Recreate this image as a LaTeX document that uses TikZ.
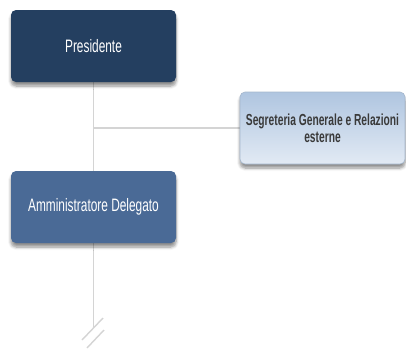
\documentclass[tikz,border=0pt]{standalone}
\usepackage{fontspec}
\setmainfont{Liberation Sans}
\newfontfamily\narrowfont{Liberation Sans}[FakeStretch=0.66]
\newfontfamily\narrowbold{Liberation Sans Bold}[FakeStretch=0.64]
\usetikzlibrary{shadows.blur}
\definecolor{navy}{HTML}{243F60}
\definecolor{midblue}{HTML}{4A6A96}
\definecolor{lightA}{HTML}{AFC5E0}
\definecolor{lightB}{HTML}{E2EAF4}
\definecolor{linegray}{HTML}{D4D4D4}
\definecolor{txtgray}{HTML}{3A3A3A}
\begin{document}
\begin{tikzpicture}[x=1pt,y=-1pt,
  box/.style={rounded corners=5pt, minimum width=165pt, minimum height=72pt, inner sep=2pt,
    align=center, blur shadow={shadow xshift=0pt, shadow yshift=-4pt, shadow blur steps=6, shadow blur radius=3pt, shadow opacity=45}},
  darkbox/.style={box, fill=navy, text=white, font=\narrowfont\fontsize{18}{20}\selectfont},
  midbox/.style={box, fill=midblue, text=white, font=\narrowfont\fontsize{18}{20}\selectfont},
  lightbox/.style={box, top color=lightA, bottom color=lightB, draw=lightA!80!gray, line width=0.6pt,
    text=txtgray, font=\narrowbold\fontsize{16}{17}\selectfont},
  conn/.style={draw=linegray, line width=1.4pt}]
\useasboundingbox (0,0) rectangle (406,349);
\coordinate (end) at (93.5,328);
\coordinate (junc) at (93.5,128);
\draw[conn] (93.5,46) -- (end);
\draw[conn] (junc) -- (330,128);
\node[darkbox] (pres) at (93.5,46) {Presidente};
\node[lightbox] (seg) at (322.5,128) {Segreteria Generale e Relazioni\\esterne};
\node[midbox] (ad) at (93.5,207) {Amministratore Delegato};
\draw[linegray, line width=1.4pt] (82,340) -- (103,318);
\draw[linegray, line width=1.4pt] (87,348) -- (104,330);
\end{tikzpicture}
\end{document}
